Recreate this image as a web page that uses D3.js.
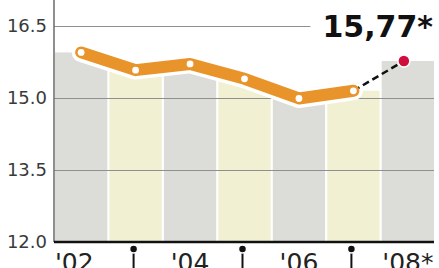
<!DOCTYPE html>
<html>
<head>
<meta charset="utf-8">
<script src="https://cdnjs.cloudflare.com/ajax/libs/d3/7.8.5/d3.min.js"></script>
<style>
    body { margin: 0; background: #fff; }
    svg { display: block; }
</style>
</head>
<body>
<div id="chart"></div>
<script>
// data
var years = ["'02", "'03", "'04", "'05", "'06", "'07", "'08*"];
var values = [15.95, 15.58, 15.71, 15.40, 14.99, 15.15, 15.77];
var yTicks = [12.0, 13.5, 15.0, 16.5];
var forecastLabel = "15,77*";

function drawChart() {
    ///////////////////////////////////////////////////////////////////////////
    //////////////////////////////// Set up svg ///////////////////////////////
    ///////////////////////////////////////////////////////////////////////////

    var W = 439,
        H = 268;
    var left = 54,
        right = 434,
        bottom = 242;

    var svg = d3.select("#chart")
        .append("svg")
        .attr("width", W)
        .attr("height", H);

    var x = d3.scaleBand()
        .domain(years)
        .range([left + 1, right])
        .paddingInner(0.04)
        .paddingOuter(0);

    var y = d3.scaleLinear()
        .domain([12, 16.5])
        .range([bottom, 26]);

    var cx = function(d) { return x(d) + x.bandwidth() / 2; };

    ///////////////////////////////////////////////////////////////////////////
    ////////////////////////////////// Bars ///////////////////////////////////
    ///////////////////////////////////////////////////////////////////////////

    svg.selectAll(".bar")
        .data(values)
        .enter().append("rect")
        .attr("class", "bar")
        .attr("x", function(d, i) { return x(years[i]); })
        .attr("y", function(d) { return y(d); })
        .attr("width", x.bandwidth())
        .attr("height", function(d) { return bottom - y(d); })
        .style("fill", function(d, i) { return i % 2 ? "#f1f0d3" : "#dcddd8"; });

    //gridlines + tick labels
    var yAxis = svg.append("g")
        .attr("class", "y-axis")
        .attr("transform", "translate(" + left + ",0)")
        .call(d3.axisLeft(y)
            .tickValues(yTicks)
            .tickSize(-(right - left))
            .tickPadding(7)
            .tickFormat(d3.format(".1f")));

    yAxis.select(".domain").remove();
    yAxis.selectAll(".tick line")
        .style("stroke", "#8f8f8f")
        .style("stroke-width", 1);
    yAxis.selectAll(".tick text")
        .style("font-family", "'DejaVu Sans', sans-serif")
        .style("font-size", "18px")
        .style("fill", "#3a3a3a");

    //left axis line
    svg.append("line")
        .attr("x1", left).attr("x2", left)
        .attr("y1", 0).attr("y2", bottom)
        .style("stroke", "#6a6a6a")
        .style("stroke-width", 1.5);

    //bottom axis
    svg.append("line")
        .attr("x1", left).attr("x2", right)
        .attr("y1", bottom).attr("y2", bottom)
        .style("stroke", "#111")
        .style("stroke-width", 2.5);

    ///////////////////////////////////////////////////////////////////////////
    //////////////////////////////// X axis ///////////////////////////////////
    ///////////////////////////////////////////////////////////////////////////

    //pin ticks on odd years
    var pins = svg.selectAll(".pin")
        .data(years.filter(function(d, i) { return i % 2 === 1; }))
        .enter().append("g")
        .attr("class", "pin")
        .attr("transform", function(d) { return "translate(" + (cx(d) - 2) + ",0)"; });

    pins.append("line")
        .attr("y1", 249).attr("y2", H)
        .style("stroke", "#111")
        .style("stroke-width", 2);
    pins.append("circle")
        .attr("cy", 249)
        .attr("r", 4)
        .style("fill", "#111")
        .style("stroke", "#fff")
        .style("stroke-width", 1.5);

    //year labels on even years, first one starts at the axis
    svg.selectAll(".year")
        .data(years.filter(function(d, i) { return i % 2 === 0; }))
        .enter().append("text")
        .attr("class", "year")
        .attr("x", function(d, i) { return i === 0 ? x(d) : cx(d); })
        .attr("y", 271)
        .attr("text-anchor", function(d, i) { return i === 0 ? "start" : "middle"; })
        .style("font-family", "'DejaVu Sans', sans-serif")
        .style("font-size", "25px")
        .style("fill", "#222")
        .text(function(d) { return d; });

    ///////////////////////////////////////////////////////////////////////////
    ///////////////////////////////// Line ////////////////////////////////////
    ///////////////////////////////////////////////////////////////////////////

    var actual = values.slice(0, values.length - 1).map(function(v, i) { return [cx(years[i]), y(v)]; });
    var last = values.length - 1;
    var lastPt = [cx(years[last]) - 4, y(values[last])];

    var line = d3.line();

    //white halo
    svg.append("path")
        .attr("d", line(actual))
        .style("fill", "none")
        .style("stroke", "#fff")
        .style("stroke-width", 19)
        .style("stroke-linejoin", "round")
        .style("stroke-linecap", "round");

    //dashed forecast
    svg.append("path")
        .attr("d", line([actual[actual.length - 1], lastPt]))
        .style("fill", "none")
        .style("stroke", "#111")
        .style("stroke-width", 2.5)
        .style("stroke-dasharray", "7,4");

    svg.append("path")
        .attr("d", line(actual))
        .style("fill", "none")
        .style("stroke", "#e8942a")
        .style("stroke-width", 12)
        .style("stroke-linejoin", "round")
        .style("stroke-linecap", "round");

    svg.selectAll(".dot")
        .data(actual)
        .enter().append("circle")
        .attr("class", "dot")
        .attr("cx", function(d) { return d[0]; })
        .attr("cy", function(d) { return d[1]; })
        .attr("r", 3.4)
        .style("fill", "#fff");

    svg.append("circle")
        .attr("cx", lastPt[0])
        .attr("cy", lastPt[1])
        .attr("r", 6)
        .style("fill", "#d0103c")
        .style("stroke", "#fff")
        .style("stroke-width", 1.5);

    ///////////////////////////////////////////////////////////////////////////
    ///////////////////////////////// Label ///////////////////////////////////
    ///////////////////////////////////////////////////////////////////////////

    //white patch to knock the gridline out behind the label
    var knock = svg.append("rect")
        .style("fill", "#fff");

    var label = svg.append("text")
        .attr("x", right - 1)
        .attr("y", 37)
        .attr("text-anchor", "end")
        .style("font-family", "'DejaVu Sans', sans-serif")
        .style("font-weight", "bold")
        .style("font-size", "30px")
        .style("fill", "#111")
        .text(forecastLabel);

    var bb = label.node().getBBox();
    knock.attr("x", bb.x - 12)
        .attr("y", 18)
        .attr("width", bb.width + 14)
        .attr("height", 14);
}
drawChart();
</script>
</body>
</html>
